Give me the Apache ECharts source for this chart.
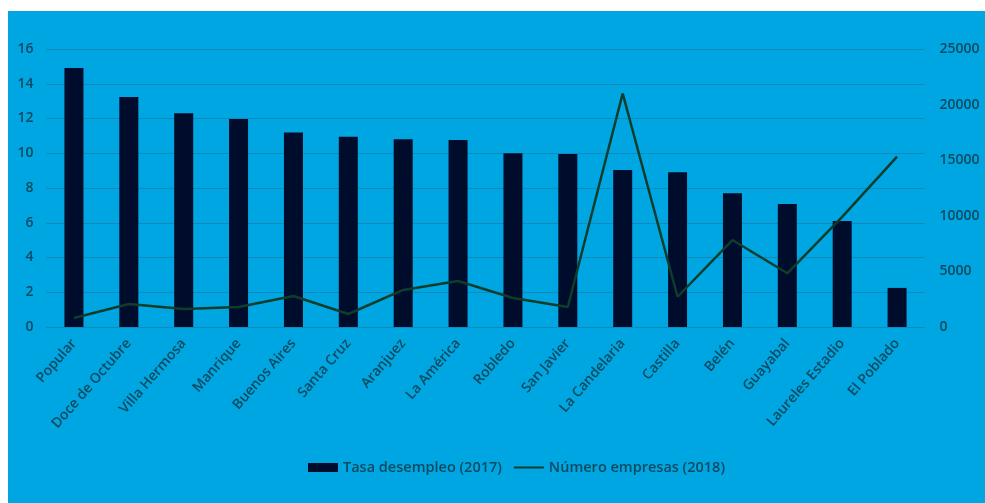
<!DOCTYPE html>
<html>
<head>
<meta charset="utf-8">
<script src="https://cdn.jsdelivr.net/npm/echarts@6/dist/echarts.min.js"></script>
<style>
html,body{margin:0;padding:0;background:#fff;width:985px;height:503px;overflow:hidden;}
#c{position:absolute;left:8px;top:11px;width:977px;height:492px;background:#00a6e1;}
</style>
</head>
<body>
<div id="c"></div>
<script>
const categories = ["Popular","Doce de Octubre","Villa Hermosa","Manrique","Buenos Aires","Santa Cruz","Aranjuez","La América","Robledo","San Javier","La Candelaria","Castilla","Belén","Guayabal","Laureles Estadio","El Poblado"];
const tasaDesempleo = [14.9, 13.24, 12.3, 11.97, 11.2, 10.95, 10.8, 10.76, 10.0, 9.95, 9.04, 8.9, 7.7, 7.08, 6.1, 2.25];
const numeroEmpresas = [810, 2070, 1620, 1800, 2790, 1170, 3330, 4140, 2610, 1800, 21000, 2720, 7820, 4830, 9900, 15320];
const leftTicks = {min:0, max:16, interval:2};
const rightTicks = {min:0, max:25000, interval:5000};

const textColor = '#0b4a60';
const gridColor = '#1189bb';
const font = 'Open Sans';
const chart = echarts.init(document.getElementById('c'));
chart.setOption({
  animation:false,
  backgroundColor:'#00a6e1',
  textStyle:{fontFamily:font},
  grid:{left:38.5, right:60.5, top:38, bottom:176},
  legend:{
    bottom:23, left:295, itemGap:12, itemWidth:30, itemHeight:9,
    textStyle:{color:textColor, fontSize:14.5, fontFamily:font, fontWeight:600},
    data:[
      {name:'Tasa desempleo (2017)', icon:'rect'},
      {name:'Número empresas (2018)', icon:'path://M0,0 L30,0 L30,0.01 Z M0,3.4 L30,3.4 L30,5.6 L0,5.6 Z M0,9 L30,9 L30,8.99 Z'}
    ]
  },
  xAxis:{
    type:'category', data:categories,
    axisLine:{lineStyle:{color:gridColor, width:1}},
    axisTick:{show:false},
    axisLabel:{rotate:49, color:textColor, fontSize:14, fontWeight:600, margin:14, interval:0}
  },
  yAxis:[
    {type:'value', min:leftTicks.min, max:leftTicks.max, interval:leftTicks.interval,
     axisLabel:{color:textColor, fontSize:14, fontWeight:600, margin:13},
     splitLine:{lineStyle:{color:gridColor, width:1}},
     axisLine:{show:false}, axisTick:{show:false}},
    {type:'value', min:rightTicks.min, max:rightTicks.max, interval:rightTicks.interval,
     axisLabel:{color:textColor, fontSize:14, fontWeight:600, margin:15, formatter:function(v){return String(v);}},
     splitLine:{show:false},
     axisLine:{show:false}, axisTick:{show:false}}
  ],
  series:[
    {name:'Tasa desempleo (2017)', type:'bar', data:tasaDesempleo, barWidth:19,
     itemStyle:{color:'#000c2c'}},
    {name:'Número empresas (2018)', type:'line', yAxisIndex:1, data:numeroEmpresas,
     symbol:'none', lineStyle:{color:'#0e3d2c', width:2.5}, itemStyle:{color:'#0e3d2c'}}
  ]
});
</script>
</body>
</html>
